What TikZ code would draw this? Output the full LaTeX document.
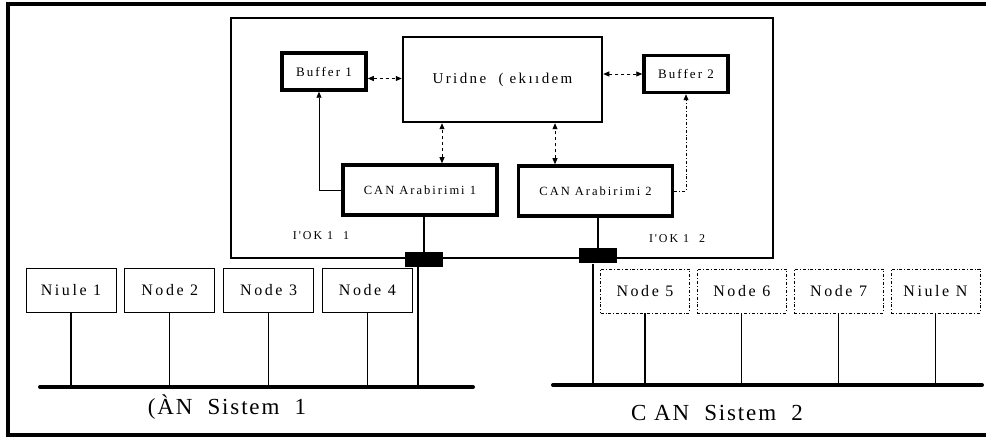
\documentclass[tikz,border=0pt]{standalone}
\usepackage{fontspec}
\setmainfont{Liberation Serif}
\newfontfamily\taramafont{Liberation Serif}[LetterSpace=16]
\newfontfamily\sistemfont{Liberation Serif}[LetterSpace=8]
\usetikzlibrary{positioning, arrows.meta}

\begin{document}
\begin{tikzpicture}[
    x=1pt, y=-1pt,
    cerceve/.style={
        draw,
        line width=1.2pt,
        minimum width=542pt,
        minimum height=240pt,
        inner sep=0pt
    },
    merkezkutu/.style={
        draw,
        line width=2.5pt,
        minimum width=199pt,
        minimum height=85pt,
        font=\taramafont\fontsize{15}{17}\selectfont
    },
    tampon/.style={
        draw,
        line width=3.5pt,
        minimum width=84pt,
        minimum height=37pt,
        inner sep=1pt,
        font=\taramafont\fontsize{13}{15}\selectfont
    },
    arabirim/.style={
        draw,
        line width=3.5pt,
        minimum width=154pt,
        minimum height=50pt,
        inner sep=1pt,
        font=\taramafont\fontsize{12.5}{14}\selectfont
    },
    portblok/.style={
        fill=black,
        minimum width=38pt,
        minimum height=15pt,
        inner sep=0pt
    },
    dugum/.style={
        draw,
        line width=0.8pt,
        minimum width=90pt,
        minimum height=44pt,
        inner sep=1pt,
        font=\taramafont\fontsize{16}{18}\selectfont
    },
    dugumkesik/.style={
        dugum,
        minimum width=89pt,
        dash dot
    },
    portyazi/.style={
        font=\taramafont\fontsize{12}{14}\selectfont
    },
    sistemyazi/.style={
        font=\sistemfont\fontsize{23}{26}\selectfont
    },
    hat/.style={
        line width=4pt,
        line cap=round
    },
    dal/.style={
        line width=1.3pt
    },
    ciftok/.style={
        >={Triangle[length=6pt,width=5pt]},
        <->,
        line width=0.8pt,
        dashed
    },
    tekok/.style={
        >={Triangle[length=6pt,width=5pt]},
        ->,
        line width=0.8pt
    }
]
    \useasboundingbox (0,0) rectangle (986,438);

    % Dis cerceve
    \draw[line width=4pt] (992,4) -- (8,4) -- (8,435) -- (992,435);

    % ECU ici
    \node[cerceve] (ecu) at (502,138) {};
    \node[merkezkutu] (merkez) at (502.5,79.5) {Uridne\ \ ( ekııdem};
    \node[tampon] (buf1) at (324,71.5) {Buffer 1};
    \node[tampon] (buf2) at (686,74) {Buffer 2};
    \node[arabirim] (can1) at (420,190) {CAN Arabirimi 1};
    \node[arabirim] (can2) at (595.5,191) {CAN Arabirimi 2};
    \node[portblok] (port1) at (424,259.5) {};
    \node[portblok] (port2) at (598,256) {};
    \node[portyazi] (port1yazi) at (321,236) {I'OK 1\ \ 1};
    \node[portyazi] (port2yazi) at (677,239) {I'OK 1\ \ 2};

    % Dugumler
    \node[dugum] (n1) at (71,290) {Niule 1};
    \node[dugum, right=8pt of n1] (n2) {Node 2};
    \node[dugum, right=8pt of n2] (n3) {Node 3};
    \node[dugum, right=8pt of n3] (n4) {Node 4};
    \node[dugumkesik] (n5) at (645,291) {Node 5};
    \node[dugumkesik, right=7pt of n5] (n6) {Node 6};
    \node[dugumkesik, right=7pt of n6] (n7) {Node 7};
    \node[dugumkesik, right=7pt of n7] (nN) {Niule N};

    % CAN hatlari
    \coordinate (hat1a) at (40,387);
    \coordinate (hat1b) at (473,387);
    \coordinate (hat2a) at (553,385);
    \coordinate (hat2b) at (982,385);
    \draw[hat] (hat1a) -- (hat1b);
    \draw[hat] (hat2a) -- (hat2b);
    \foreach \n in {n1,n2,n3,n4}
        \draw[dal] (\n.south) -- (\n.south |- hat1a);
    \foreach \n in {n5,n6,n7,nN}
        \draw[dal] (\n.south) -- (\n.south |- hat2a);
    \draw[dal] ([xshift=-6pt]port1.south) -- ([xshift=-6pt]port1.south |- hat1a);
    \draw[dal] ([xshift=-5pt]port2.south) -- ([xshift=-5pt]port2.south |- hat2a);

    \node[sistemyazi] (sistem1) at (227,407) {(ÀN\ \ Sistem\ \ 1};
    \node[sistemyazi] (sistem2) at (717,413) {C AN\ \ Sistem\ \ 2};

    % Arabirim - port
    \draw[line width=2pt] (can1.south -| port1) -- (port1.north);
    \draw[line width=2pt] (can2.south -| port2) -- (port2.north);

    % Oklar
    \draw[ciftok] ([xshift=22pt]can1.north) -- ([xshift=22pt]can1.north |- merkez.south);
    \draw[ciftok] ([xshift=-40.5pt]can2.north) -- ([xshift=-40.5pt]can2.north |- merkez.south);
    \draw[ciftok] ([yshift=-7pt]buf1.east) -- ([yshift=-7pt]buf1.east -| merkez.west);
    \draw[ciftok] (buf2.west) -- (buf2.west -| merkez.east);
    \draw[tekok] (can1.west) -| ([xshift=-5pt]buf1.south);
    \draw[tekok, dash dot] (can2.east) -| (buf2.south);

\end{tikzpicture}
\end{document}
